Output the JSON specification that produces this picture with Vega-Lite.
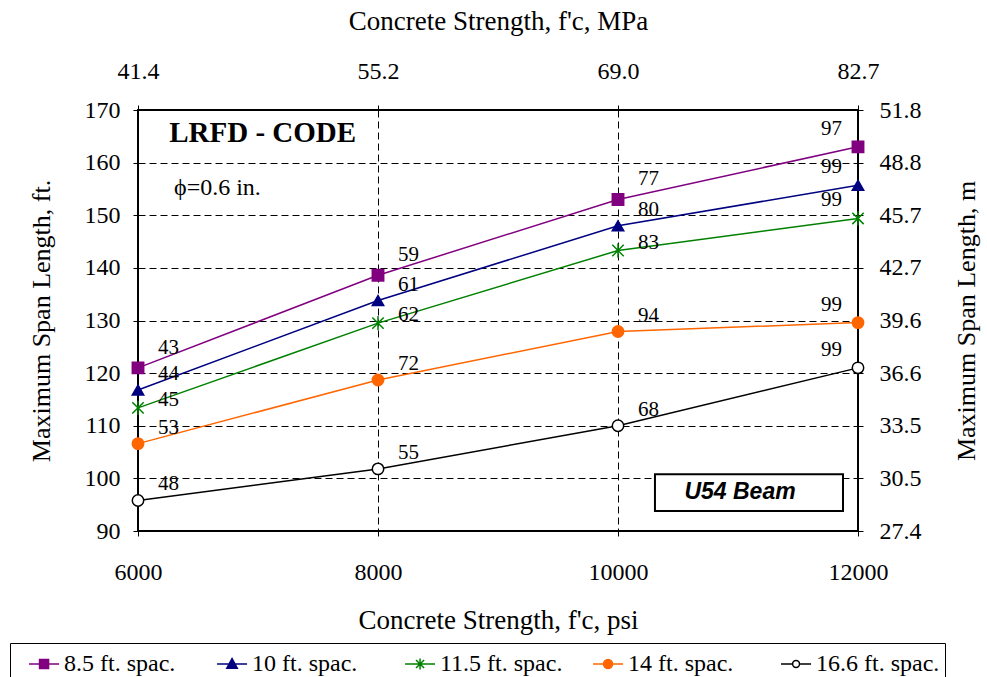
{
  "$schema": "https://vega.github.io/schema/vega-lite/v6.json",
  "width": 720,
  "height": 421,
  "autosize": "none",
  "padding": {"left": 138, "top": 110, "right": 129, "bottom": 146},
  "background": "white",
  "config": {
    "view": {"stroke": "black", "strokeWidth": 2},
    "axis": {
      "labelFont": "Liberation Serif",
      "titleFont": "Liberation Serif",
      "titleFontWeight": "normal",
      "labelColor": "black",
      "titleColor": "black",
      "tickColor": "black",
      "tickSize": 5,
      "domain": false,
      "labelFlush": false,
      "labelFontSize": 24,
      "titleFontSize": 27
    },
    "text": {"font": "Liberation Serif", "color": "black"}
  },
  "datasets": {
    "spans": [
      {"psi": 6000, "series": "8.5 ft. spac.", "span": 121.0, "strands": "43"},
      {"psi": 8000, "series": "8.5 ft. spac.", "span": 138.6, "strands": "59"},
      {"psi": 10000, "series": "8.5 ft. spac.", "span": 153.0, "strands": "77"},
      {"psi": 12000, "series": "8.5 ft. spac.", "span": 163.0, "strands": "97"},
      {"psi": 6000, "series": "10 ft. spac.", "span": 116.8, "strands": "44"},
      {"psi": 8000, "series": "10 ft. spac.", "span": 133.8, "strands": "61"},
      {"psi": 10000, "series": "10 ft. spac.", "span": 148.0, "strands": "80"},
      {"psi": 12000, "series": "10 ft. spac.", "span": 155.7, "strands": "99"},
      {"psi": 6000, "series": "11.5 ft. spac.", "span": 113.4, "strands": "45"},
      {"psi": 8000, "series": "11.5 ft. spac.", "span": 129.5, "strands": "62"},
      {"psi": 10000, "series": "11.5 ft. spac.", "span": 143.3, "strands": "83"},
      {"psi": 12000, "series": "11.5 ft. spac.", "span": 149.4, "strands": "99"},
      {"psi": 6000, "series": "14 ft. spac.", "span": 106.6, "strands": "53"},
      {"psi": 8000, "series": "14 ft. spac.", "span": 118.7, "strands": "72"},
      {"psi": 10000, "series": "14 ft. spac.", "span": 127.9, "strands": "94"},
      {"psi": 12000, "series": "14 ft. spac.", "span": 129.6, "strands": "99"},
      {"psi": 6000, "series": "16.6 ft. spac.", "span": 95.8, "strands": "48"},
      {"psi": 8000, "series": "16.6 ft. spac.", "span": 101.8, "strands": "55"},
      {"psi": 10000, "series": "16.6 ft. spac.", "span": 110.0, "strands": "68"},
      {"psi": 12000, "series": "16.6 ft. spac.", "span": 121.0, "strands": "99"}
    ],
    "notes": [
      {"kind": "code", "x": 6260, "y": 165.6, "text": "LRFD - CODE"},
      {"kind": "strand", "x": 6300, "y": 155.2, "text": "ϕ=0.6 in."},
      {"kind": "beam", "x": 11017, "y": 97.4, "x0": 10308, "x1": 11875, "y0": 100.8, "y1": 93.8, "text": "U54 Beam"}
    ]
  },
  "layer": [
    {
      "description": "Legend keys: invisible points whose legend draws a line with the series marker on it",
      "data": {"name": "spans"},
      "mark": {"type": "point", "filled": true, "opacity": 1, "size": 0, "strokeWidth": 1.5},
      "encoding": {
        "x": {"field": "psi", "type": "quantitative", "axis": null},
        "y": {"field": "span", "type": "quantitative", "axis": null},
        "stroke": {
          "field": "series", "type": "nominal",
          "scale": {
            "domain": ["8.5 ft. spac.", "10 ft. spac.", "11.5 ft. spac.", "14 ft. spac.", "16.6 ft. spac."],
            "range": ["#800080", "#000080", "#008000", "#FF6600", "#000000"]
          }
        },
        "fill": {
          "field": "series", "type": "nominal",
          "scale": {
            "domain": ["8.5 ft. spac.", "10 ft. spac.", "11.5 ft. spac.", "14 ft. spac.", "16.6 ft. spac."],
            "range": ["#800080", "#000080", "#008000", "#FF6600", "#FFFFFF"]
          }
        },
        "shape": {
          "field": "series", "type": "nominal",
          "scale": {
            "domain": ["8.5 ft. spac.", "10 ft. spac.", "11.5 ft. spac.", "14 ft. spac.", "16.6 ft. spac."],
            "range": [
              "M-0.13,0H1.87M0.57,-0.3H1.17V0.3H0.57Z",
              "M-0.13,0H1.87M0.87,-0.36L1.22,0.28H0.52Z",
              "M-0.13,0H1.87M0.6,-0.27L1.14,0.27M0.6,0.27L1.14,-0.27M0.87,-0.36V0.36",
              "M-0.13,0H1.87M1.17,0A0.3,0.3,0,1,1,0.57,0A0.3,0.3,0,1,1,1.17,0Z",
              "M-0.13,0H0.64M1.1,0H1.87M1.1,0A0.23,0.23,0,1,1,0.64,0A0.23,0.23,0,1,1,1.1,0Z"
            ]
          },
          "legend": {
            "orient": "none",
            "legendX": -128,
            "legendY": 533,
            "direction": "horizontal",
            "columns": 5,
            "gridAlign": "all",
            "title": null,
            "labelFont": "Liberation Serif",
            "labelFontSize": 24,
            "labelColor": "black",
            "labelOffset": 17,
            "symbolSize": 900,
            "symbolStrokeWidth": 1.5,
            "columnPadding": 15,
            "padding": 5,
            "strokeColor": "black",
            "fillColor": "white"
          }
        }
      }
    },
    {
      "data": {"name": "spans"},
      "mark": {"type": "line", "strokeWidth": 1.5},
      "encoding": {
        "x": {
          "field": "psi", "type": "quantitative",
          "scale": {"domain": [6000, 12000], "nice": false, "zero": false},
          "axis": {
            "orient": "bottom", "title": "Concrete Strength, f'c, psi",
            "values": [6000, 8000, 10000, 12000], "format": "d",
            "labelFont": "Liberation Serif", "titleFont": "Liberation Serif",
            "labelFontSize": 24, "titleFontSize": 27, "labelFlush": false,
            "labelPadding": 24, "titlePadding": 23,
            "grid": true, "gridColor": "black", "gridDash": [7, 4], "gridOpacity": 1, "gridWidth": 1
          }
        },
        "y": {
          "field": "span", "type": "quantitative",
          "scale": {"domain": [90, 170], "nice": false, "zero": false},
          "axis": {
            "orient": "left", "title": "Maximum Span Length, ft.",
            "values": [90, 100, 110, 120, 130, 140, 150, 160, 170],
            "labelFont": "Liberation Serif", "titleFont": "Liberation Serif",
            "labelFontSize": 24, "titleFontSize": 26, "labelFlush": false,
            "labelPadding": 13, "titlePadding": 30,
            "grid": true, "gridColor": "black", "gridDash": [7, 4], "gridOpacity": 1, "gridWidth": 1
          }
        },
        "stroke": {
          "field": "series", "type": "nominal",
          "scale": {
            "domain": ["8.5 ft. spac.", "10 ft. spac.", "11.5 ft. spac.", "14 ft. spac.", "16.6 ft. spac."],
            "range": ["#800080", "#000080", "#008000", "#FF6600", "#000000"]
          },
          "legend": null
        },
        "detail": {"field": "series"}
      }
    },
    {
      "data": {"name": "spans"},
      "mark": {"type": "point", "filled": true, "opacity": 1, "size": 130, "strokeWidth": 1.5},
      "encoding": {
        "x": {
          "field": "psi", "type": "quantitative",
          "axis": {
            "orient": "top", "title": "Concrete Strength, f'c, MPa",
            "values": [6000, 8000, 10000, 12000],
            "labelExpr": "format(datum.value * 0.006895 + 0.000001, '.1f')",
            "labelFont": "Liberation Serif", "titleFont": "Liberation Serif",
            "labelFontSize": 24, "titleFontSize": 27, "labelFlush": false,
            "labelPadding": 22, "titlePadding": 24, "grid": false
          }
        },
        "y": {
          "field": "span", "type": "quantitative",
          "axis": {
            "orient": "right", "title": "Maximum Span Length, m",
            "values": [90, 100, 110, 120, 130, 140, 150, 160, 170],
            "labelExpr": "format(datum.value * 0.3048, '.1f')",
            "labelFont": "Liberation Serif", "titleFont": "Liberation Serif",
            "labelFontSize": 24, "titleFontSize": 26, "labelFlush": false,
            "labelPadding": 16, "titlePadding": 58, "titleAngle": 270, "grid": false
          }
        },
        "stroke": {
          "field": "series", "type": "nominal",
          "scale": {
            "domain": ["8.5 ft. spac.", "10 ft. spac.", "11.5 ft. spac.", "14 ft. spac.", "16.6 ft. spac."],
            "range": ["#800080", "#000080", "#008000", "#FF6600", "#000000"]
          },
          "legend": null
        },
        "fill": {
          "field": "series", "type": "nominal",
          "scale": {
            "domain": ["8.5 ft. spac.", "10 ft. spac.", "11.5 ft. spac.", "14 ft. spac.", "16.6 ft. spac."],
            "range": ["#800080", "#000080", "#008000", "#FF6600", "#FFFFFF"]
          },
          "legend": null
        },
        "shape": {
          "field": "series", "type": "nominal",
          "scale": {
            "domain": ["8.5 ft. spac.", "10 ft. spac.", "11.5 ft. spac.", "14 ft. spac.", "16.6 ft. spac."],
            "range": ["square", "triangle-up", "M-1,-1L1,1M-1,1L1,-1M0,-1.25V1.25", "circle", "circle"]
          },
          "legend": null
        }
      }
    },
    {
      "description": "Strand-count labels right of the points, default offset",
      "data": {"name": "spans"},
      "transform": [{"filter": "datum.psi < 12000 && datum.series != '8.5 ft. spac.' && datum.series != '11.5 ft. spac.'"}],
      "mark": {"type": "text", "font": "Liberation Serif", "align": "left", "baseline": "middle", "dx": 20, "dy": -16, "fontSize": 21},
      "encoding": {
        "x": {"field": "psi", "type": "quantitative", "axis": null},
        "y": {"field": "span", "type": "quantitative", "axis": null},
        "text": {"field": "strands"}
      }
    },
    {
      "description": "Top series labels sit a little higher",
      "data": {"name": "spans"},
      "transform": [{"filter": "datum.psi < 12000 && datum.series == '8.5 ft. spac.'"}],
      "mark": {"type": "text", "font": "Liberation Serif", "align": "left", "baseline": "middle", "dx": 20, "dy": -20, "fontSize": 21},
      "encoding": {
        "x": {"field": "psi", "type": "quantitative", "axis": null},
        "y": {"field": "span", "type": "quantitative", "axis": null},
        "text": {"field": "strands"}
      }
    },
    {
      "description": "11.5 ft. labels sit close to their line",
      "data": {"name": "spans"},
      "transform": [{"filter": "datum.psi < 12000 && datum.series == '11.5 ft. spac.'"}],
      "mark": {"type": "text", "font": "Liberation Serif", "align": "left", "baseline": "middle", "dx": 20, "dy": -8, "fontSize": 21},
      "encoding": {
        "x": {"field": "psi", "type": "quantitative", "axis": null},
        "y": {"field": "span", "type": "quantitative", "axis": null},
        "text": {"field": "strands"}
      }
    },
    {
      "data": {"name": "spans"},
      "transform": [{"filter": "datum.psi == 12000"}],
      "mark": {"type": "text", "font": "Liberation Serif", "align": "right", "baseline": "middle", "dx": -16, "dy": -18, "fontSize": 21},
      "encoding": {
        "x": {"field": "psi", "type": "quantitative", "axis": null},
        "y": {"field": "span", "type": "quantitative", "axis": null},
        "text": {"field": "strands"}
      }
    },
    {
      "data": {"name": "notes"},
      "transform": [{"filter": "datum.kind == 'code'"}],
      "mark": {"type": "text", "font": "Liberation Serif", "align": "left", "baseline": "middle", "fontSize": 29, "fontWeight": "bold"},
      "encoding": {
        "x": {"field": "x", "type": "quantitative", "axis": null},
        "y": {"field": "y", "type": "quantitative", "axis": null},
        "text": {"field": "text"}
      }
    },
    {
      "data": {"name": "notes"},
      "transform": [{"filter": "datum.kind == 'strand'"}],
      "mark": {"type": "text", "font": "Liberation Serif", "align": "left", "baseline": "middle", "fontSize": 24},
      "encoding": {
        "x": {"field": "x", "type": "quantitative", "axis": null},
        "y": {"field": "y", "type": "quantitative", "axis": null},
        "text": {"field": "text"}
      }
    },
    {
      "data": {"name": "notes"},
      "transform": [{"filter": "datum.kind == 'beam'"}],
      "mark": {"type": "rect", "fill": "white", "stroke": "black", "strokeWidth": 2},
      "encoding": {
        "x": {"field": "x0", "type": "quantitative", "axis": null},
        "x2": {"field": "x1"},
        "y": {"field": "y0", "type": "quantitative", "axis": null},
        "y2": {"field": "y1"}
      }
    },
    {
      "data": {"name": "notes"},
      "transform": [{"filter": "datum.kind == 'beam'"}],
      "mark": {"type": "text", "align": "center", "baseline": "middle", "font": "Liberation Sans", "fontSize": 23, "fontWeight": "bold", "fontStyle": "italic"},
      "encoding": {
        "x": {"field": "x", "type": "quantitative", "axis": null},
        "y": {"field": "y", "type": "quantitative", "axis": null},
        "text": {"field": "text"}
      }
    }
  ],
  "resolve": {
    "axis": {"x": "independent", "y": "independent"},
    "scale": {"shape": "independent", "fill": "independent", "stroke": "independent"}
  }
}
